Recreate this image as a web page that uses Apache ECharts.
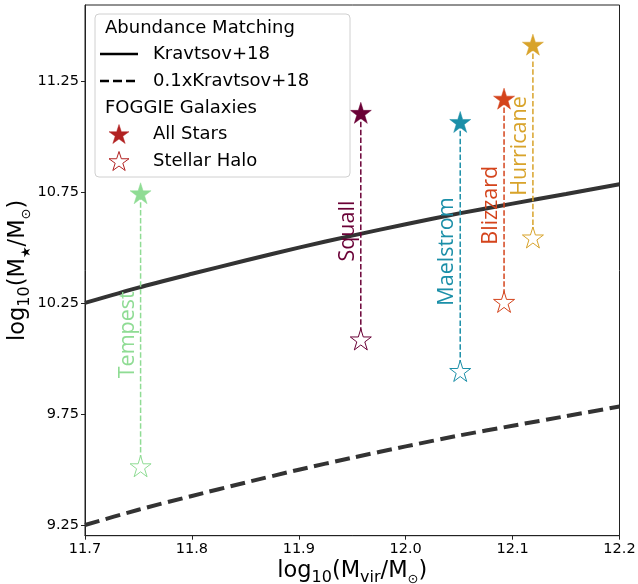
<!DOCTYPE html>
<html><head><meta charset="utf-8">
<script src="https://cdn.jsdelivr.net/npm/echarts@6/dist/echarts.min.js"></script>
<style>html,body{margin:0;padding:0;background:#fff}#c{width:638px;height:584px}</style>
</head><body><div id="c"></div>
<script>
// ---- data ----
const haloMass = [11.70, 11.75, 11.80, 11.85, 11.90, 11.95, 12.00, 12.05, 12.10, 12.15, 12.20];
const kravtsov = [10.253, 10.322, 10.384, 10.444, 10.502, 10.556, 10.607, 10.656, 10.700, 10.743, 10.787];
const kravtsovTenth = [9.253, 9.322, 9.384, 9.444, 9.502, 9.556, 9.607, 9.656, 9.700, 9.743, 9.787];
const galaxyNames = ['Tempest', 'Squall', 'Maelstrom', 'Blizzard', 'Hurricane'];
const galaxyMvir = [11.752, 11.958, 12.051, 12.092, 12.119];
const galaxyAllStars = [10.742, 11.104, 11.063, 11.168, 11.411];
const galaxyHalo = [9.513, 10.084, 9.942, 10.253, 10.543];
const galaxyColors = ['#8fdc94', '#6a0136', '#1b8fa8', '#d4441c', '#d8a32a'];
const xTicks = [11.7, 11.8, 11.9, 12.0, 12.1, 12.2];
const yTicks = [9.25, 9.75, 10.25, 10.75, 11.25];

function starPts(cx, cy, R) {
  const pts = [];
  for (let k = 0; k < 10; k++) {
    const r = k % 2 === 0 ? R : R * 0.381966;
    const a = -Math.PI / 2 + k * Math.PI / 5;
    pts.push([cx + r * Math.cos(a), cy + r * Math.sin(a)]);
  }
  return pts;
}
const STAR = 'path://' + starPts(0, 0, 100).map((p, i) => (i ? 'L' : 'M') + p[0].toFixed(2) + ' ' + p[1].toFixed(2)).join(' ') + ' Z';

const chart = echarts.init(document.getElementById('c'), null, {renderer: 'canvas'});
const FONT = 'DejaVu Sans';

const series = [];
series.push({
  type: 'line', data: haloMass.map((x, i) => [x, kravtsov[i]]), symbol: 'none', smooth: 0.25,
  lineStyle: {color: '#333', width: 4}, z: 2, silent: true
});
series.push({
  type: 'line', data: haloMass.map((x, i) => [x, kravtsovTenth[i]]), symbol: 'none', smooth: 0.25,
  lineStyle: {color: '#333', width: 4, type: [15, 6.5]}, z: 2, silent: true
});
galaxyNames.forEach((n, i) => {
  series.push({
    type: 'line', data: [[galaxyMvir[i], galaxyAllStars[i]], [galaxyMvir[i], galaxyHalo[i]]], symbol: 'none',
    lineStyle: {color: galaxyColors[i], width: 1.5, type: [5.5, 2.4]}, z: 3, silent: true
  });
});
series.push({
  type: 'scatter', symbol: STAR, symbolSize: 21, symbolOffset: [0, -1], z: 5, silent: true,
  data: galaxyMvir.map((x, i) => ({value: [x, galaxyAllStars[i]], itemStyle: {color: galaxyColors[i], borderColor: galaxyColors[i], borderWidth: 0.5, opacity: 1}}))
});
series.push({
  type: 'scatter', symbol: STAR, symbolSize: 21, symbolOffset: [0, -1], z: 5, silent: true,
  data: galaxyMvir.map((x, i) => ({value: [x, galaxyHalo[i]], itemStyle: {color: '#fff', borderColor: galaxyColors[i], borderWidth: 1, opacity: 1}}))
});
series.push({
  type: 'scatter', symbolSize: 0, z: 4, silent: true, itemStyle: {opacity: 1},
  data: galaxyMvir.map((x, i) => ({
    value: [x, (galaxyAllStars[i] + galaxyHalo[i]) / 2], name: galaxyNames[i],
    label: {color: galaxyColors[i]}
  })),
  label: {show: true, formatter: p => p.name, rotate: 90, position: 'inside', offset: [-4, -13],
    fontFamily: 'Open Sans', fontSize: 21.5, align: 'center', verticalAlign: 'middle', opacity: 1}
});

const legendX = 95, legendY = 14;
const rowY = [28, 54, 81, 108, 134, 161];
const lt = (t, x, y) => ({type: 'text', z: 100, style: {text: t, x: x, y: y, fontSize: 18, fontFamily: FONT, fill: '#000', verticalAlign: 'middle'}});
const graphic = [
  {type: 'rect', z: 99, shape: {x: legendX, y: legendY, width: 255, height: 163, r: 4},
    style: {fill: 'rgba(255,255,255,0.85)', stroke: '#d0d0d0', lineWidth: 1}},
  lt('Abundance Matching', 105, rowY[0]),
  {type: 'line', z: 100, shape: {x1: 100, y1: rowY[1], x2: 138, y2: rowY[1]}, style: {stroke: '#000', lineWidth: 2.5}},
  lt('Kravtsov+18', 153, rowY[1]),
  {type: 'line', z: 100, shape: {x1: 100, y1: rowY[2], x2: 138, y2: rowY[2]}, style: {stroke: '#000', lineWidth: 2.5, lineDash: [9, 4]}},
  lt('0.1xKravtsov+18', 153, rowY[2]),
  lt('FOGGIE Galaxies', 105, rowY[3]),
  {type: 'polygon', z: 100, shape: {points: starPts(119, rowY[4] + 1, 10.5)}, style: {fill: '#b22222', stroke: '#b22222', lineWidth: 0.5}},
  lt('All Stars', 153, rowY[4]),
  {type: 'polygon', z: 100, shape: {points: starPts(119, rowY[5] + 1, 10.5)}, style: {fill: '#fff', stroke: '#b22222', lineWidth: 1}},
  lt('Stellar Halo', 153, rowY[5])
];

const nameRich = {
  a: {fontSize: 22.5, fontFamily: FONT, color: '#000', lineHeight: 30, verticalAlign: 'middle'},
  s: {fontSize: 16, fontFamily: FONT, color: '#000', lineHeight: 30, verticalAlign: 'bottom'},
  t: {fontSize: 13, fontFamily: FONT, color: '#000', lineHeight: 30, verticalAlign: 'bottom'}
};

chart.setOption({
  animation: false,
  backgroundColor: '#fff',
  grid: {left: 85, right: 18.5, top: 5, bottom: 48.3, containLabel: false, outerBoundsMode: 'none',
    show: true, borderColor: '#222', borderWidth: 1, backgroundColor: 'transparent'},
  xAxis: {
    type: 'value', min: 11.7, max: 12.2,
    axisLine: {show: true, lineStyle: {color: '#222', width: 1}},
    axisTick: {show: true, length: 4, lineStyle: {color: '#222'}, customValues: xTicks},
    axisLabel: {show: true, customValues: xTicks, formatter: v => v.toFixed(1), fontSize: 14.5, fontFamily: FONT, color: '#000', margin: 6},
    splitLine: {show: false},
    name: '{a|log}{s|10}{a|(M}{s|vir}{a|/M}{t|⊙}{a|)}', nameLocation: 'middle', nameGap: 20, nameMoveOverlap: false,
    nameTextStyle: {rich: nameRich}
  },
  yAxis: {
    type: 'value', min: 9.205, max: 11.594,
    axisLine: {show: true, lineStyle: {color: '#222', width: 1}},
    axisTick: {show: true, length: 4, lineStyle: {color: '#222'}, customValues: yTicks},
    axisLabel: {show: true, customValues: yTicks, formatter: v => v.toFixed(2), fontSize: 14.5, fontFamily: FONT, color: '#000', margin: 6},
    splitLine: {show: false},
    name: '{a|log}{s|10}{a|(M}{t|★}{a|/M}{t|⊙}{a|)}', nameLocation: 'middle', nameGap: 52, nameRotate: 90, nameMoveOverlap: false,
    nameTextStyle: {rich: nameRich}
  },
  graphic: graphic,
  series: series
});
</script></body></html>
